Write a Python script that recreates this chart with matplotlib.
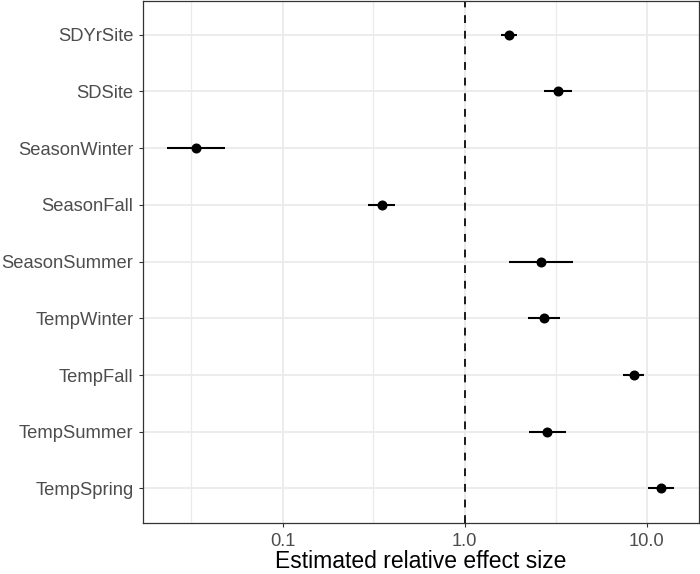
import matplotlib
matplotlib.use("Agg")
import matplotlib.pyplot as plt
import numpy as np

plt.rcParams['font.family'] = ['Liberation Sans', 'DejaVu Sans']

# Data (top to bottom as shown)
terms = ["SDYrSite", "SDSite", "SeasonWinter", "SeasonFall", "SeasonSummer",
         "TempWinter", "TempFall", "TempSummer", "TempSpring"]
estimate = [1.76, 3.27, 0.0333, 0.350, 2.63, 2.72, 8.54, 2.84, 12.0]
lower = [1.59, 2.74, 0.0232, 0.295, 1.75, 2.22, 7.42, 2.26, 10.2]
upper = [1.95, 3.90, 0.0485, 0.414, 3.96, 3.36, 9.69, 3.60, 14.1]
x_ticks = [0.1, 1.0, 10.0]
x_tick_labels = ["0.1", "1.0", "10.0"]
x_label = "Estimated relative effect size"

fig = plt.figure(figsize=(7.0, 5.74), dpi=100)
ax = fig.add_axes([0.2036, 0.0897, 0.999 - 0.2036, 0.999 - 0.0897])

n = len(terms)
ypos = np.arange(n, 0, -1)  # top item highest

ax.set_xscale('log')
ax.set_xlim(0.01703, 19.45)
ax.set_ylim(0.4, n + 0.6)

# gridlines
grid_c = '#EBEBEB'
for v in x_ticks:
    ax.axvline(v, color=grid_c, lw=1.3, zorder=0)
for v in [0.0316, 0.316, 3.16]:
    ax.axvline(v, color=grid_c, lw=1.0, zorder=0)
for y in ypos:
    ax.axhline(y, color=grid_c, lw=1.3, zorder=0)

# reference line
ax.axvline(1.0, color='black', lw=1.25, ls=(0, (4.5, 4.5)), zorder=1)

# point ranges
ax.hlines(ypos, lower, upper, color='black', lw=1.5, zorder=2)
ax.plot(estimate, ypos, 'o', color='black', markersize=6.2, zorder=3)

ax.set_yticks(ypos)
ax.set_yticklabels(terms)
ax.set_xticks(x_ticks)
ax.set_xticklabels(x_tick_labels)
ax.xaxis.set_minor_locator(matplotlib.ticker.NullLocator())

ax.tick_params(axis='both', which='major', length=2.9, width=0.8, color='#333333',
               labelcolor='#4D4D4D', labelsize=13.2)
ax.tick_params(axis='y', pad=3.6)
ax.tick_params(axis='x', pad=5.0)
ax.set_xlabel(x_label, fontsize=16.5, color='black', labelpad=0)

for s in ax.spines.values():
    s.set_color('#333333')
    s.set_linewidth(0.9)

fig.savefig('out.png', dpi=100)
